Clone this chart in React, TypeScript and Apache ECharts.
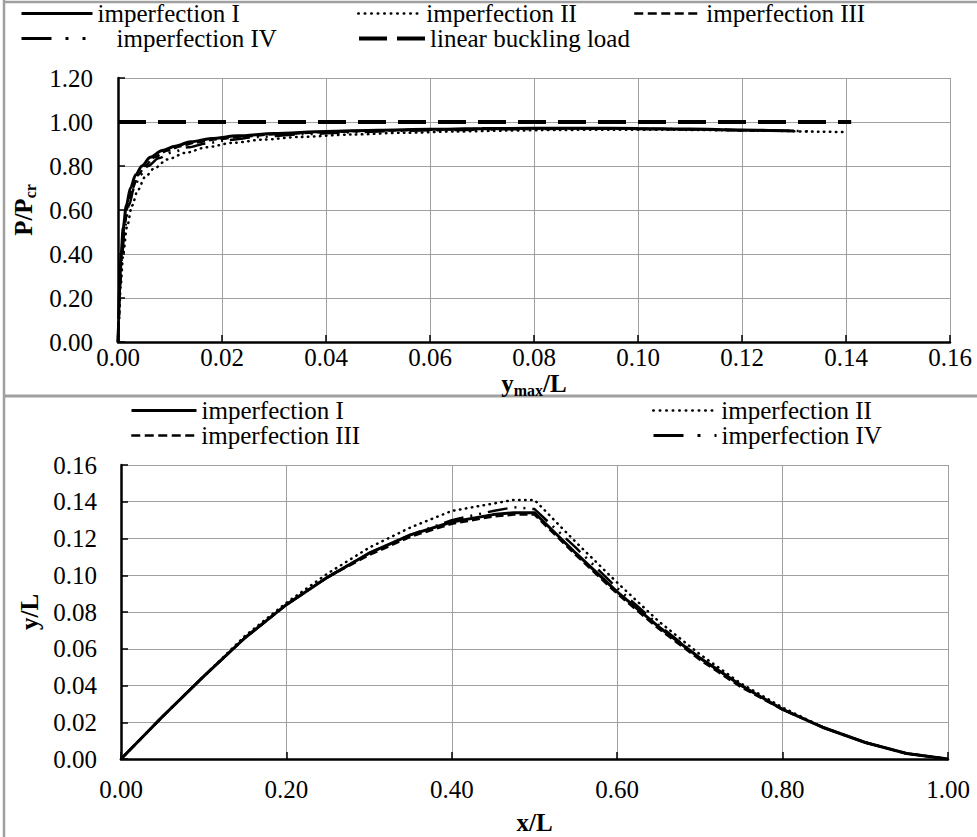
import React, { useEffect, useRef } from "react";
import * as echarts from "echarts";

// ---------- DATA ----------
// Top chart: load–deflection, x = y_max/L, y = P/Pcr
const loadX_I = [0, 0.0001, 0.0003, 0.0006, 0.001, 0.0016, 0.0024, 0.0034, 0.0046, 0.0062, 0.0085, 0.011, 0.014, 0.018, 0.023, 0.03, 0.04, 0.05, 0.06, 0.07, 0.08, 0.09, 0.1, 0.11, 0.12, 0.13];
const loadY_I = [0, 0.1, 0.25, 0.4, 0.52, 0.62, 0.7, 0.76, 0.8, 0.84, 0.87, 0.89, 0.91, 0.925, 0.937, 0.948, 0.957, 0.963, 0.967, 0.97, 0.972, 0.972, 0.971, 0.968, 0.964, 0.959];

const loadX_II = [0, 0.0002, 0.0005, 0.001, 0.0017, 0.0027, 0.0038, 0.0052, 0.007, 0.0095, 0.013, 0.017, 0.022, 0.028, 0.035, 0.045, 0.055, 0.065, 0.075, 0.085, 0.095, 0.105, 0.115, 0.125, 0.135, 0.14];
const loadY_II = [0, 0.1, 0.25, 0.4, 0.52, 0.62, 0.69, 0.75, 0.79, 0.83, 0.86, 0.885, 0.905, 0.92, 0.932, 0.943, 0.951, 0.957, 0.961, 0.964, 0.965, 0.965, 0.963, 0.96, 0.956, 0.954];

const loadX_III = [0, 0.00012, 0.00035, 0.0007, 0.0012, 0.0019, 0.0028, 0.0039, 0.0052, 0.007, 0.0095, 0.012, 0.015, 0.019, 0.024, 0.03, 0.04, 0.05, 0.06, 0.07, 0.08, 0.09, 0.1, 0.11, 0.12, 0.125];
const loadY_III = [0, 0.1, 0.25, 0.4, 0.52, 0.62, 0.7, 0.76, 0.8, 0.84, 0.87, 0.89, 0.907, 0.922, 0.934, 0.944, 0.954, 0.961, 0.965, 0.968, 0.97, 0.97, 0.969, 0.966, 0.962, 0.96];

const loadX_IV = [0, 0.00015, 0.0004, 0.0008, 0.0013, 0.0021, 0.0031, 0.0043, 0.0058, 0.0078, 0.0105, 0.0135, 0.017, 0.021, 0.027, 0.035, 0.045, 0.055, 0.065, 0.075, 0.085, 0.095, 0.105, 0.115, 0.125, 0.133];
const loadY_IV = [0, 0.1, 0.25, 0.4, 0.52, 0.62, 0.7, 0.76, 0.8, 0.835, 0.863, 0.885, 0.903, 0.918, 0.932, 0.944, 0.953, 0.96, 0.964, 0.967, 0.969, 0.969, 0.968, 0.965, 0.961, 0.958];

const linearX = [0, 0.141];
const linearY = [1, 1];

// Bottom chart: deflected shape, x = x/L, y = y/L
const shapeX = [0, 0.05, 0.1, 0.15, 0.2, 0.25, 0.3, 0.35, 0.4, 0.45, 0.475, 0.5, 0.55, 0.6, 0.65, 0.7, 0.75, 0.8, 0.85, 0.9, 0.95, 1.0];
const shapeY_I = [0, 0.023, 0.045, 0.066, 0.084, 0.099, 0.112, 0.122, 0.129, 0.133, 0.134, 0.134, 0.112, 0.091, 0.072, 0.055, 0.04, 0.027, 0.017, 0.009, 0.003, 0];
const shapeY_II = [0, 0.023, 0.045, 0.067, 0.085, 0.101, 0.115, 0.126, 0.135, 0.139, 0.141, 0.141, 0.118, 0.096, 0.075, 0.057, 0.041, 0.028, 0.017, 0.009, 0.003, 0];
const shapeY_III = [0, 0.023, 0.045, 0.066, 0.084, 0.099, 0.111, 0.121, 0.128, 0.132, 0.133, 0.133, 0.111, 0.09, 0.071, 0.054, 0.039, 0.027, 0.017, 0.009, 0.003, 0];
const shapeY_IV = [0, 0.023, 0.045, 0.066, 0.084, 0.099, 0.112, 0.122, 0.13, 0.135, 0.137, 0.136, 0.115, 0.093, 0.073, 0.055, 0.04, 0.027, 0.017, 0.009, 0.003, 0];

const NAMES = ["imperfection I", "imperfection II", "imperfection III", "imperfection IV", "linear buckling load"];

// ---------- STYLE ----------
const FONT = '"Liberation Serif", "Times New Roman", serif';
const STYLES: any = {
  "imperfection I": { color: "#000", width: 3, type: "solid" },
  "imperfection II": { color: "#000", width: 2.5, type: [0.5, 5.5], cap: "round" },
  "imperfection III": { color: "#000", width: 2.5, type: [8, 4] },
  "imperfection IV": { color: "#000", width: 2.5, type: [20, 7, 2, 7, 2, 7] },
  "linear buckling load": { color: "#000", width: 4, type: [28, 12] },
};
const LEGEND_LINES: any = {
  "imperfection I": { width: 3, type: "solid" },
  "imperfection II": { width: 2.5, type: [0.5, 6], cap: "round" },
  "imperfection III": { width: 2.5, type: [9, 4.5] },
  "imperfection IV": { width: 3, type: [30, 14, 3, 14, 3, 40] },
  "linear buckling load": { width: 4, type: [28, 10] },
};

const zip = (xs: number[], ys: number[]) => xs.map((x, i) => [x, ys[i]]);

const mkSeries = (name: string, xs: number[], ys: number[], idx: number, smooth: number) => ({
  type: "line",
  name,
  xAxisIndex: idx,
  yAxisIndex: idx,
  data: zip(xs, ys),
  symbol: "none",
  showSymbol: false,
  smooth,
  smoothMonotone: "x",
  color: "#000",
  lineStyle: STYLES[name],
  itemStyle: { color: "#000" },
  silent: true,
});

const tickText = { fontSize: 25, fontFamily: FONT, color: "#000" };
const nameRich = {
  n: { fontSize: 25, fontWeight: "bold", fontFamily: FONT, color: "#000", lineHeight: 30 },
  s: { fontSize: 16, fontWeight: "bold", fontFamily: FONT, color: "#000", lineHeight: 12, verticalAlign: "bottom" },
};

const axisCommon = (min: number, max: number, interval: number, margin: number) => ({
  type: "value",
  min,
  max,
  interval,
  axisLine: { show: true, onZero: false, lineStyle: { color: "#000", width: 2.5 } },
  axisTick: { show: true, inside: true, length: 7, lineStyle: { color: "#000", width: 1.5 } },
  splitLine: { show: true, lineStyle: { color: "#a0a0a0", width: 1 } },
  axisLabel: {
    ...tickText,
    margin,
    formatter: (v: number) => v.toFixed(2),
    showMinLabel: true,
    showMaxLabel: true,
    hideOverlap: false,
  },
  nameLocation: "middle",
  nameTextStyle: { rich: nameRich },
});

const legendText = { fontSize: 25, fontFamily: FONT, color: "#000", lineHeight: 22 };
const mkLegend = (name: string, left: number, top: number, itemWidth: number) => ({
  data: [name],
  left,
  top,
  itemWidth,
  itemHeight: 14,
  padding: 0,
  itemGap: 0,
  selectedMode: false,
  itemStyle: { opacity: 0 },
  lineStyle: { color: "#000", ...LEGEND_LINES[name] },
  textStyle: legendText,
});

export default function App() {
  const ref = useRef<HTMLDivElement>(null);
  useEffect(() => {
    document.body.style.margin = "0";
    const chart = echarts.init(ref.current!, null, { renderer: "svg" });
    const option: any = {
      animation: false,
      backgroundColor: "#fff",
      grid: [
        { left: 118, top: 78, width: 832, height: 264 },
        { left: 121, top: 465, width: 827, height: 294 },
      ],
      xAxis: [
        {
          ...axisCommon(0, 0.16, 0.02, 3),
          gridIndex: 0,
          name: "{n|y}{s|max}{n|/L}",
          nameGap: 23,
        },
        {
          ...axisCommon(0, 1, 0.2, 18),
          gridIndex: 1,
          name: "{n|x/L}",
          nameGap: 48,
        },
      ],
      yAxis: [
        {
          ...axisCommon(0, 1.2, 0.2, 25),
          gridIndex: 0,
          name: "{n|P/P}{s|cr}",
          nameRotate: 90,
          nameGap: 70,
        },
        {
          ...axisCommon(0, 0.16, 0.02, 24),
          gridIndex: 1,
          name: "{n|y/L}",
          nameRotate: 90,
          nameGap: 76,
        },
      ],
      legend: [
        mkLegend(NAMES[0], 20, 1, 71),
        mkLegend(NAMES[1], 357, 1, 63),
        mkLegend(NAMES[2], 633, 1, 67),
        mkLegend(NAMES[3], 20, 26, 90),
        mkLegend(NAMES[4], 357, 26, 66),
        mkLegend(NAMES[0], 130, 398, 65),
        mkLegend(NAMES[1], 652, 398, 63),
        mkLegend(NAMES[2], 130, 423, 65),
        mkLegend(NAMES[3], 652, 423, 63),
      ],
      graphic: [
        { type: "line", silent: true, shape: { x1: 4, y1: 0, x2: 4, y2: 837 }, style: { stroke: "#a0a0a0", lineWidth: 2.5 } },
        { type: "line", silent: true, shape: { x1: 4, y1: 2, x2: 977, y2: 2 }, style: { stroke: "#a0a0a0", lineWidth: 2.5 } },
        { type: "line", silent: true, shape: { x1: 4, y1: 396, x2: 977, y2: 396 }, style: { stroke: "#a0a0a0", lineWidth: 3 } },
      ],
      series: [
        mkSeries(NAMES[4], linearX, linearY, 0, 0),
        mkSeries(NAMES[1], loadX_II, loadY_II, 0, 0.3),
        mkSeries(NAMES[2], loadX_III, loadY_III, 0, 0.3),
        mkSeries(NAMES[3], loadX_IV, loadY_IV, 0, 0.3),
        mkSeries(NAMES[0], loadX_I, loadY_I, 0, 0.3),
        mkSeries(NAMES[1], shapeX, shapeY_II, 1, 0),
        mkSeries(NAMES[2], shapeX, shapeY_III, 1, 0),
        mkSeries(NAMES[3], shapeX, shapeY_IV, 1, 0),
        mkSeries(NAMES[0], shapeX, shapeY_I, 1, 0),
      ],
    };
    chart.setOption(option);
    return () => chart.dispose();
  }, []);
  return <div ref={ref} style={{ width: 977, height: 837 }} />;
}
